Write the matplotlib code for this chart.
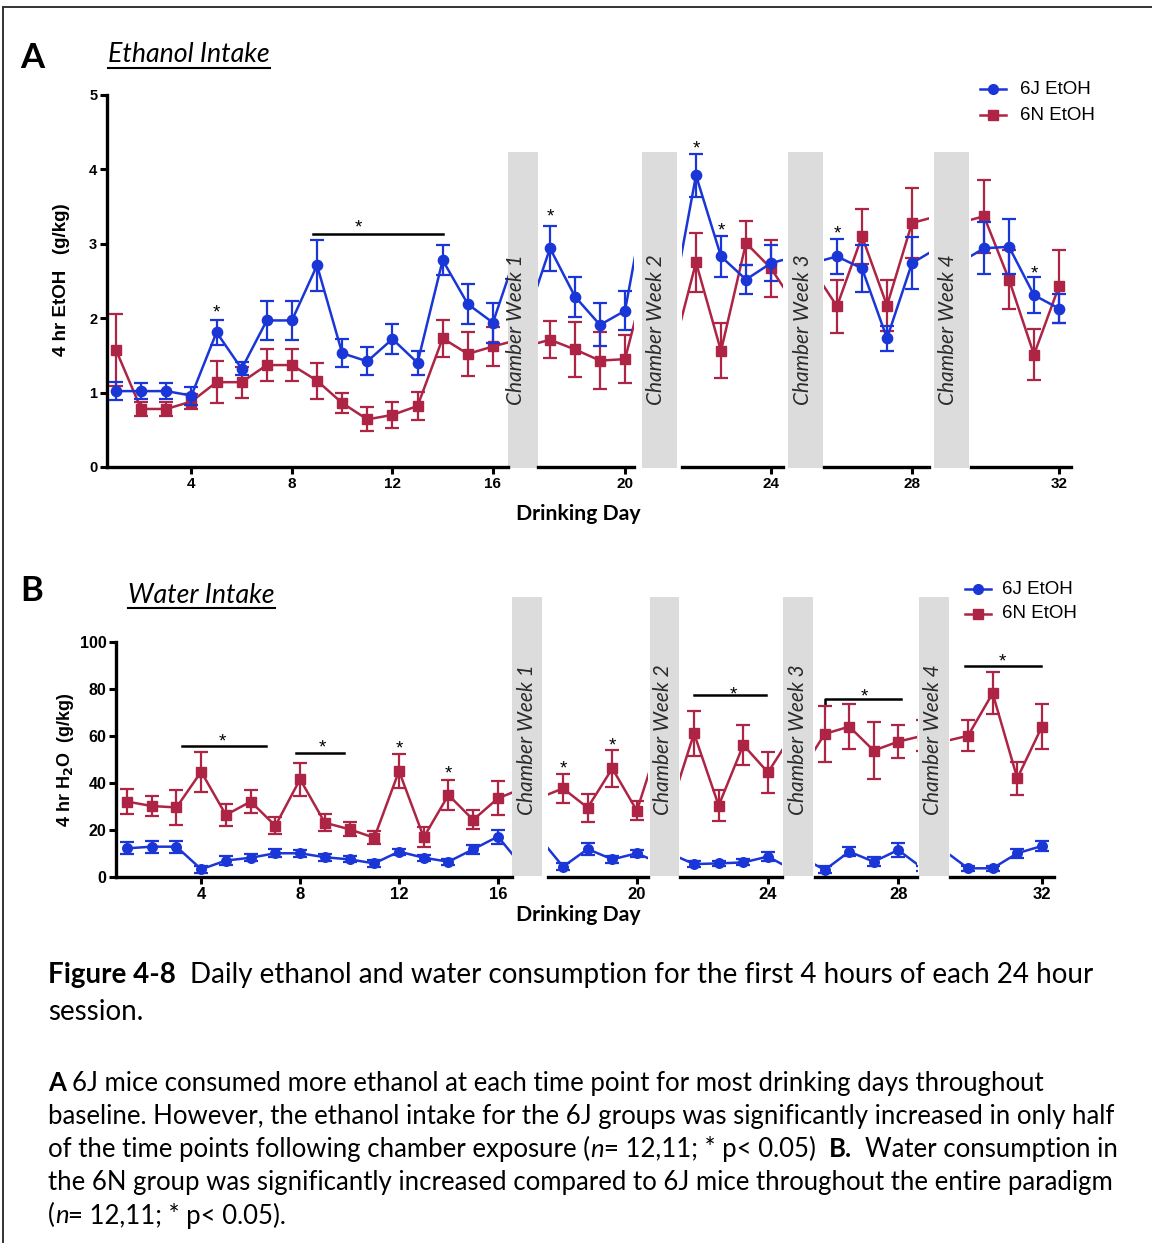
import matplotlib
matplotlib.use("Agg")
import matplotlib.pyplot as plt
from matplotlib.lines import Line2D
from matplotlib.patches import Rectangle
import matplotlib.transforms as mtransforms
import numpy as np

plt.rcParams["font.family"] = ["Liberation Sans", "DejaVu Sans"]

W, H, DPI = 1152, 1243, 100

# ---------------- data ----------------
days = np.arange(1, 33)

etoh_6j = [1.02, 1.02, 1.02, 0.96, 1.81, 1.32, 1.97, 1.97, 2.71, 1.53, 1.42, 1.72, 1.40, 2.78, 2.19, 1.94,
           2.94, 2.29, 1.91, 2.10, 3.92, 2.83, 2.52, 2.74, 2.83, 2.67, 1.73, 2.74, 2.94, 2.96, 2.31, 2.13]
etoh_6j_sem = [0.12, 0.11, 0.11, 0.12, 0.17, 0.09, 0.26, 0.26, 0.34, 0.19, 0.19, 0.20, 0.16, 0.20, 0.27, 0.27,
               0.30, 0.27, 0.29, 0.26, 0.29, 0.27, 0.19, 0.24, 0.23, 0.32, 0.17, 0.35, 0.35, 0.37, 0.24, 0.19]
etoh_6n = [1.57, 0.78, 0.78, 0.88, 1.14, 1.14, 1.37, 1.37, 1.16, 0.86, 0.64, 0.70, 0.82, 1.73, 1.52, 1.62,
           1.71, 1.58, 1.43, 1.45, 2.75, 1.56, 3.01, 2.67, 2.16, 3.10, 2.17, 3.28, 3.37, 2.52, 1.51, 2.43]
etoh_6n_sem = [0.48, 0.10, 0.10, 0.10, 0.28, 0.21, 0.22, 0.22, 0.24, 0.13, 0.16, 0.18, 0.19, 0.25, 0.30, 0.26,
               0.25, 0.37, 0.38, 0.32, 0.40, 0.37, 0.29, 0.38, 0.36, 0.37, 0.34, 0.47, 0.49, 0.40, 0.34, 0.49]

water_6j = [12.2, 12.9, 12.9, 3.3, 7.0, 8.2, 10.1, 10.1, 8.4, 7.5, 5.8, 10.8, 8.2, 6.5, 11.8, 17.2,
            4.4, 11.9, 7.5, 10.1, 5.5, 5.8, 6.2, 8.7, 3.0, 10.8, 6.5, 11.5, 3.7, 3.7, 10.1, 13.2]
water_6j_sem = [2.6, 2.6, 2.6, 1.5, 1.8, 1.5, 1.8, 1.5, 1.5, 1.3, 1.5, 1.3, 1.3, 1.2, 2.0, 3.0,
                1.5, 2.5, 1.5, 1.5, 1.2, 1.0, 1.3, 1.8, 1.5, 2.0, 2.0, 3.0, 1.0, 1.0, 2.0, 2.0]
water_6n = [32.1, 30.2, 29.6, 44.8, 26.4, 32.1, 21.8, 41.6, 23.1, 20.3, 16.7, 45.1, 16.9, 34.9, 24.3, 33.5,
            37.7, 29.5, 46.2, 28.2, 61.1, 30.4, 56.2, 44.5, 60.9, 64.0, 53.8, 57.6, 60.1, 78.2, 42.0, 64.0]
water_6n_sem = [5.3, 4.4, 7.5, 8.5, 4.8, 5.0, 3.7, 7.0, 3.7, 3.0, 2.8, 7.2, 4.2, 6.2, 4.0, 7.2,
                6.0, 6.0, 8.0, 4.0, 9.6, 6.7, 8.5, 8.9, 12.0, 9.6, 12.3, 7.0, 6.6, 8.9, 7.0, 9.5]

series_labels = ["6J EtOH", "6N EtOH"]
segment_ticks = [[4, 8, 12, 16], [20], [24], [28], [32]]
chamber_labels = ["Chamber Week 1", "Chamber Week 2", "Chamber Week 3", "Chamber Week 4"]

# significance marks: single stars (day, y) and bars (start, end, y, star_x, star_y)
etoh_stars = [(5, 2.14), (17, 3.43), (21, 4.35), (22, 3.24), (25, 3.21), (31, 2.67)]
etoh_bars = [(8.85, 14.03, 3.13, 10.64, 3.28)]
water_stars = [(12, 57.0), (14, 46.0), (17, 48.5), (19, 58.0)]
water_bars = [(3.23, 6.63, 55.7, 4.85, 60.0), (7.84, 9.79, 52.7, 8.9, 57.4),
              (21.0, 23.92, 77.4, 22.58, 80.0), (25.0, 28.1, 75.7, 26.6, 79.0),
              (28.88, 31.96, 89.8, 30.38, 94.0)]

BLUE = "#1b36d6"
RED = "#ad2444"
BAND = "#dcdcdc"

fig = plt.figure(figsize=(W / DPI, H / DPI), dpi=DPI)


def fx(x):
    return x / W


def fy(y):
    return 1 - y / H


def draw_panel(segs, ytop, ybot, ylim, yticks, bands, band_top, band_bot, band_tx, band_ty,
               j, j_err, n, n_err, stars, bars, tick_fs, ytick_fs, mk):
    axes = []
    for i, (x0, x1, lo, hi) in enumerate(segs):
        ax = fig.add_axes([fx(x0), fy(ybot), (x1 - x0) / W, (ybot - ytop) / H])
        ax.patch.set_alpha(0)
        ax.set_xlim(lo, hi)
        ax.set_ylim(*ylim)
        for s in ("top", "right"):
            ax.spines[s].set_visible(False)
        ax.spines["bottom"].set_linewidth(2.4)
        if i == 0:
            ax.spines["left"].set_linewidth(2.4)
            ax.set_yticks(yticks)
            ax.set_yticklabels([str(v) for v in yticks], fontweight="bold", fontsize=ytick_fs)
            ax.tick_params(axis="y", direction="out", length=5, width=2.2, pad=2)
        else:
            ax.spines["left"].set_visible(False)
            ax.set_yticks([])
        ax.set_xticks(segment_ticks[i])
        ax.set_xticklabels([str(v) for v in segment_ticks[i]], fontweight="bold", fontsize=tick_fs)
        ax.tick_params(axis="x", direction="out", length=5, width=2.2, pad=2)

        ax.errorbar(days, n, yerr=n_err, fmt="-s", color=RED, ms=mk, lw=1.8, elinewidth=1.6,
                    capsize=5.2, capthick=1.6, zorder=3)
        ax.errorbar(days, j, yerr=j_err, fmt="-o", color=BLUE, ms=mk + 0.4, lw=1.8, elinewidth=1.6,
                    capsize=5.2, capthick=1.6, zorder=4)

        star_tr = mtransforms.offset_copy(ax.transData, fig=fig, x=0, y=-10, units="dots")
        for d, yv in stars:
            if lo <= d <= hi:
                ax.text(d, yv, "*", ha="center", va="baseline", fontsize=13.5, transform=star_tr)
        for b0, b1, yb, sx, sy in bars:
            if lo <= (b0 + b1) / 2 <= hi:
                if b0 == 25.0:
                    ax.plot([b0, b0, b1], [yb - 2.5, yb, yb], color="black", lw=1.8, clip_on=False)
                else:
                    ax.plot([b0, b1], [yb, yb], color="black", lw=1.8, clip_on=False)
                ax.text(sx, sy, "*", ha="center", va="baseline", fontsize=13.5, transform=star_tr)
        axes.append(ax)

    for (b0, b1), tx, label in zip(bands, band_tx, chamber_labels):
        fig.add_artist(Rectangle((fx(b0), fy(band_bot)), (b1 - b0) / W, (band_bot - band_top) / H,
                                 transform=fig.transFigure, facecolor=BAND, edgecolor="none", zorder=0))
        fig.text(fx(tx), fy(band_ty), label, rotation=90, ha="center", va="center",
                 family=["Lato", "DejaVu Sans"], fontstyle="italic", fontsize=15, color="#2a2a2a")
    return axes


# ---------------- panel A: ethanol ----------------
segA = [(107, 508, 0.64, 16.6), (538, 634, 16.52, 20.36), (682, 783, 20.44, 24.48),
        (824, 929, 24.48, 28.68), (971, 1071, 28.48, 32.48)]
bandsA = [(508, 538), (642, 677), (788, 823), (934, 969)]
draw_panel(segA, 95, 467, (0, 5), [0, 1, 2, 3, 4, 5], bandsA, 152, 468, [516, 656, 803, 948], 330,
           etoh_6j, etoh_6j_sem, etoh_6n, etoh_6n_sem, etoh_stars, etoh_bars, 11, 10.5, 7)

# ---------------- panel B: water ----------------
segB = [(116, 512, 0.555, 16.57), (548, 648, 16.39, 20.45), (680, 782, 20.43, 24.57),
        (815, 917, 24.6, 28.77), (950, 1054, 28.27, 32.49)]
bandsB = [(512, 542), (650, 679), (783, 813), (919, 949)]
draw_panel(segB, 642, 877, (0, 100), [0, 20, 40, 60, 80, 100], bandsB, 597, 876, [527, 663, 798, 933], 740,
           water_6j, water_6j_sem, water_6n, water_6n_sem, water_stars, water_bars, 12, 11.5, 6.5)

# ---------------- labels ----------------
fig.text(fx(62), fy(280), "4 hr EtOH   (g/kg)", rotation=90, ha="center", va="center",
         fontweight="bold", fontsize=13.5)
fig.text(fx(65), fy(760), "4 hr H$_\\mathbf{2}$O  (g/kg)", rotation=90, ha="center", va="center",
         fontweight="bold", fontsize=13)
for yc in (514, 915):
    fig.text(fx(578), fy(yc), "Drinking Day", ha="center", va="center",
             family=["Lato", "DejaVu Sans"], fontweight="bold", fontsize=15.3)

fig.text(fx(20), fy(58), "A", ha="left", va="center", family=["Lato", "DejaVu Sans"],
         fontweight="bold", fontsize=25)
fig.text(fx(20), fy(591), "B", ha="left", va="center", family=["Lato", "DejaVu Sans"],
         fontweight="bold", fontsize=25)

renderer = fig.canvas.get_renderer()


def underlined_title(x, yc, yline, text):
    t = fig.text(fx(x), fy(yc), text, ha="left", va="center", family=["Lato", "DejaVu Sans"],
                 fontstyle="italic", fontsize=19.3)
    bb = t.get_window_extent(renderer)
    fig.add_artist(Line2D([fx(x), fx(x + bb.width)], [fy(yline), fy(yline)], color="black", lw=1.5))


underlined_title(108, 55, 68, "Ethanol Intake")
underlined_title(128, 595, 608, "Water Intake")


def legend_rows(x0, x1, xt, ys):
    for yc, col, mkr, lab in zip(ys, [BLUE, RED], ["o", "s"], series_labels):
        fig.add_artist(Line2D([fx(x0), fx(x1)], [fy(yc), fy(yc)], color=col, lw=1.8,
                              transform=fig.transFigure))
        fig.add_artist(Line2D([fx((x0 + x1) / 2)], [fy(yc)], color=col, marker=mkr, ms=7,
                              transform=fig.transFigure))
        fig.text(fx(xt), fy(yc), lab, ha="left", va="center", fontsize=13.5)


legend_rows(980, 1006, 1020, [89, 115])
legend_rows(965, 991, 1002, [589, 614])

# ---------------- figure caption ----------------
CAP_FONT = ["Lato", "DejaVu Sans"]


def space_width(size):
    a = fig.text(0, 0, "a a", fontsize=size, family=CAP_FONT)
    b = fig.text(0, 0, "aa", fontsize=size, family=CAP_FONT)
    w = a.get_window_extent(renderer).width - b.get_window_extent(renderer).width
    a.remove()
    b.remove()
    return w


def draw_runs(x, yc, runs, size):
    sw = space_width(size)
    for text, weight, style in runs:
        lead = len(text) - len(text.lstrip(" "))
        x += lead * sw
        body = text.strip(" ")
        t = fig.text(fx(x), fy(yc), body, ha="left", va="center", family=CAP_FONT,
                     fontweight=weight, fontstyle=style, fontsize=size)
        x += t.get_window_extent(renderer).width
        trail = len(text) - len(text.rstrip(" "))
        x += trail * sw


N, B, I = "normal", "bold", "italic"
cap_big = 20.0
draw_runs(48, 975, [("Figure 4-8", B, N),
                    ("  Daily ethanol and water consumption for the first 4 hours of each 24 hour", N, N)],
          cap_big)
draw_runs(48, 1012, [("session.", N, N)], cap_big)

cap_small = 18.5
para = [
    [("A", B, N), (" 6J mice consumed more ethanol at each time point for most drinking days throughout", N, N)],
    [("baseline. However, the ethanol intake for the 6J groups was significantly increased in only half", N, N)],
    [("of the time points following chamber exposure (", N, N), ("n", N, I), ("= 12,11; * p< 0.05)  ", N, N),
     ("B.", B, N), ("  Water consumption in", N, N)],
    [("the 6N group was significantly increased compared to 6J mice throughout the entire paradigm", N, N)],
    [("(", N, N), ("n", N, I), ("= 12,11; * p< 0.05).", N, N)],
]
for k, runs in enumerate(para):
    draw_runs(48, 1083 + 33.2 * k, runs, cap_small)

# frame lines at the top and left edges
fig.add_artist(Line2D([fx(3), 1], [fy(7), fy(7)], color="#333333", lw=1.4))
fig.add_artist(Line2D([fx(3), fx(3)], [fy(7), 0], color="#333333", lw=1.4))

fig.savefig("out.png", dpi=DPI)
